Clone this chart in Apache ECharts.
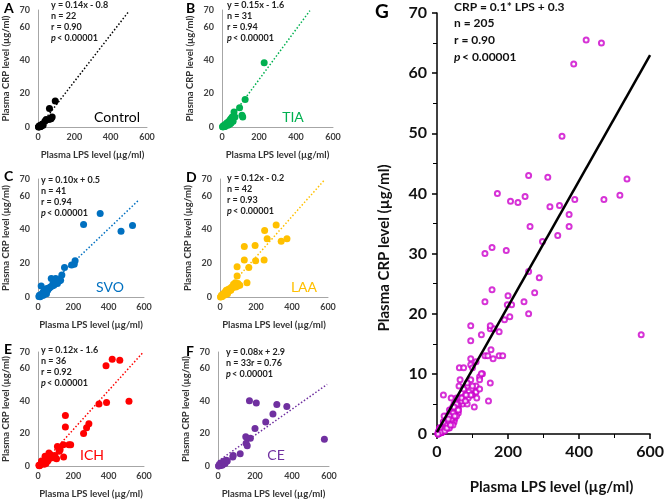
<!DOCTYPE html>
<html>
<head>
<meta charset="utf-8">
<script src="https://cdn.jsdelivr.net/npm/echarts@6/dist/echarts.min.js"></script>
<style>
  html, body { margin: 0; padding: 0; background: #fff; }
  #chart { width: 667px; height: 500px; }
</style>
</head>
<body>
<div id="chart"></div>
<script>
// LPS (x) vs CRP (y) per group
const controlPts = [[95,15.5],[63,11],[78,6],[72,5],[60,4.5],[45,4.5],[38,3.5],[25,1.8],[20,1.2],[15,1],
  [12,0.5],[10,0.2],[8,0.8],[6,0.3],[5,0.1],[18,0.6],[22,1.5],[14,0.3],[9,0.5],[4,0.2],[28,1],[3,0]];
const tiaPts = [[228,38.5],[125,16.5],[95,11.5],[108,7],[112,6],[65,9],[70,6],[55,6],[48,5],[42,4],
  [60,3.5],[50,2.5],[35,3],[30,2],[25,1.5],[20,1],[15,0.8],[10,0.5],[8,0.2],[5,0.1],[12,1],[18,0.5],
  [28,2.5],[38,1.5],[45,2],[22,2],[32,1],[14,0.3],[6,0.6],[3,0.2],[40,3]];
const svoPts = [[258,43],[352,49.5],[470,39],[535,42.4],[210,21.5],[205,19.5],[190,19],[150,17.5],[135,13],
  [128,10],[120,9.5],[100,11],[75,11],[95,9],[85,8],[18,6.5],[110,8],[90,7],[70,6],[60,5],[80,6.5],[55,4],
  [50,5],[45,3],[40,2.5],[35,2],[30,3],[25,1.5],[20,1],[15,0.8],[10,0.5],[8,1],[5,0.3],[12,0.2],[22,2],
  [28,1],[38,4],[65,5.5],[48,2],[32,1.2],[42,3.5]];
const laaPts = [[312,42.7],[248,39.5],[262,34.5],[340,33],[372,34.5],[135,30],[195,30.5],[135,22],[198,21.5],
  [245,22],[160,17.5],[95,18],[95,12.5],[150,8.5],[110,7],[98,6.5],[75,7.5],[85,8.5],[100,8],[65,6],[55,5],
  [45,4.5],[40,3],[35,4],[30,2.5],[25,2],[20,1.5],[15,1],[10,0.5],[5,0.2],[8,1],[12,0.3],[18,2],[22,1],
  [28,3],[50,3.5],[60,4],[70,5.5],[88,6],[42,2],[32,1.5],[3,0]];
const ichPts = [[420,65.5],[463,65],[385,61.5],[345,38],[388,39],[515,39.7],[155,31],[155,24],[288,26],
  [275,23.5],[258,20],[175,13],[185,13],[143,13],[110,12],[125,10],[145,5.5],[105,4.5],[85,5],[62,8],
  [70,6],[40,6],[48,4.5],[55,3],[30,2.5],[25,1.5],[35,1],[20,3],[15,1],[10,0.5],[8,0.2],[5,0.5],[45,1.5],
  [95,6.5],[120,9],[60,4]];
const cePts = [[170,40],[207,38.7],[318,37.8],[372,36.5],[297,32],[258,27],[200,23],[150,18],[175,17],
  [152,14],[158,12.5],[575,16.5],[120,7.5],[82,6.5],[80,5.5],[45,3.5],[40,2.5],[35,3],[30,2],[25,1.5],
  [20,1],[15,0.8],[10,0.5],[5,0.2],[8,1],[12,0.3],[18,2],[22,0.5],[28,1],[32,2.5],[38,1.5],[50,3],[3,0]];

// fitted lines, end points as drawn
const fitControl = [[6,0],[500,69.2]];
const fitTia = [[11,0],[475,69.6]];
const fitSvo = [[0,0.5],[570,57.5]];
const fitLaa = [[2,0],[580,69.4]];
const fitIch = [[13,0],[590,69.2]];
const fitCe = [[0,2.9],[590,50.1]];
const fitAll = [[0,0.3],[600,63]];

const eqTexts = [
  ["y = 0.14x - 0.8", "n = 22", "r = 0.90", "p"],
  ["y = 0.15x - 1.6", "n = 31", "r = 0.94", "p"],
  ["y = 0.10x + 0.5", "n = 41", "r = 0.94", "p"],
  ["y = 0.12x - 0.2", "n = 42", "r = 0.93", "p"],
  ["y = 0.12x - 1.6", "n = 36", "r = 0.92", "p"],
  ["y = 0.08x + 2.9", "n = 33r = 0.76", "p"]
];
const groupNames = ["Control", "TIA", "SVO", "LAA", "ICH", "CE"];
const panelLetters = ["A", "B", "C", "D", "E", "F"];
const groupColors = ["#000000", "#00b050", "#0070c0", "#ffc000", "#ff0000", "#7030a0"];

const FONT = 'Lato, "Open Sans", sans-serif';

const panels = [
  { pts: controlPts, fit: fitControl, grid: { left: 36, top: 10, width: 111, height: 117 },
    letter: [4, 8], eq: [51, 5], label: [117, 117] },
  { pts: tiaPts, fit: fitTia, grid: { left: 222, top: 10, width: 111, height: 117 },
    letter: [186, 8], eq: [227, 5], label: [293, 117] },
  { pts: svoPts, fit: fitSvo, grid: { left: 36, top: 179, width: 108, height: 118 },
    letter: [4, 176], eq: [41, 180], label: [110, 287] },
  { pts: laaPts, fit: fitLaa, grid: { left: 220, top: 179, width: 108, height: 118 },
    letter: [186, 177], eq: [227, 178], label: [304, 287] },
  { pts: ichPts, fit: fitIch, grid: { left: 35, top: 352, width: 109, height: 115 },
    letter: [4, 349], eq: [41, 350], label: [92, 455] },
  { pts: cePts, fit: fitCe, grid: { left: 218, top: 352, width: 111, height: 114 },
    letter: [186, 351], eq: [226, 352], label: [276, 455] }
];

const allPts = [].concat(controlPts, tiaPts, svoPts, laaPts, ichPts, cePts);

const grids = [], xAxes = [], yAxes = [], series = [], graphics = [];

panels.forEach((p, i) => {
  grids.push(p.grid);
  xAxes.push({
    type: "value", gridIndex: i, min: 0, max: 600, interval: 200,
    name: "Plasma LPS level (µg/ml)", nameLocation: "middle", nameGap: 23,
    nameTextStyle: { fontFamily: FONT, fontSize: 9.5, fontWeight: "bold", color: "#333" },
    axisLine: { lineStyle: { color: "#a6a6a6", width: 1 } },
    axisTick: { show: false },
    axisLabel: { fontFamily: FONT, fontSize: 9, fontWeight: "bold", color: "#404040", margin: 6 },
    splitLine: { show: false }
  });
  yAxes.push({
    type: "value", gridIndex: i, min: 0, max: 70, interval: 20,
    name: "Plasma CRP level (µg/ml)", nameLocation: "middle", nameGap: 27,
    nameTextStyle: { fontFamily: FONT, fontSize: 9.5, fontWeight: "bold", color: "#333" },
    axisLine: { show: true, lineStyle: { color: "#a6a6a6", width: 1 } },
    axisTick: { show: false },
    axisLabel: { fontFamily: FONT, fontSize: 9, fontWeight: "bold", color: "#404040", margin: 8 },
    splitLine: { show: false }
  });
  series.push({
    type: "line", xAxisIndex: i, yAxisIndex: i, data: p.fit, symbol: "none", z: 3,
    lineStyle: { color: groupColors[i], width: 1.5, type: [1.5, 2] }, silent: true
  });
  series.push({
    type: "scatter", xAxisIndex: i, yAxisIndex: i, data: p.pts, symbolSize: 7, z: 2,
    itemStyle: { color: groupColors[i], opacity: 1 }
  });

  graphics.push({ type: "text", left: p.letter[0], top: p.letter[1] - 7,
    style: { text: panelLetters[i], font: "bold 14px " + FONT, fill: "#000" } });
  eqTexts[i].forEach((t, k) => {
    const y = p.eq[1] + k * 11;
    if (t === "p") {
      graphics.push({ type: "text", x: p.eq[0], y: y,
        style: { text: "p", font: "italic bold 9px " + FONT, fill: "#222", textVerticalAlign: "middle" } });
      graphics.push({ type: "text", x: p.eq[0] + 6, y: y,
        style: { text: "< 0.00001", font: "bold 9px " + FONT, fill: "#222", textVerticalAlign: "middle" } });
    } else {
      graphics.push({ type: "text", x: p.eq[0], y: y,
        style: { text: t, font: "bold 9px " + FONT, fill: "#222", textVerticalAlign: "middle" } });
    }
  });
  graphics.push({ type: "text", x: p.label[0], y: p.label[1],
    style: { text: groupNames[i], font: "14px " + FONT, fill: groupColors[i],
      textAlign: "center", textVerticalAlign: "middle" } });
});

// big pooled panel G
const g = 6;
grids.push({ left: 437, top: 13, width: 215, height: 429 });
xAxes.push({
  type: "value", gridIndex: g, min: 0, max: 600, interval: 200,
  name: "Plasma LPS level (µg/ml)", nameLocation: "middle", nameGap: 46,
  nameTextStyle: { fontFamily: FONT, fontSize: 15, fontWeight: "bold", color: "#111", padding: [0, 0, 0, 16] },
  axisLine: { lineStyle: { color: "#000", width: 1.5 } },
  axisTick: { show: true, length: 5, lineStyle: { color: "#000", width: 1.5 } },
  minorTick: { show: true, splitNumber: 2, length: 4, lineStyle: { color: "#000", width: 1 } },
  axisLabel: { fontFamily: FONT, fontSize: 16, fontWeight: "bold", color: "#111", margin: 10 },
  splitLine: { show: false }
});
yAxes.push({
  type: "value", gridIndex: g, min: 0, max: 70, interval: 10,
  axisLine: { show: true, lineStyle: { color: "#000", width: 1.5 } },
  axisTick: { show: true, length: 5, lineStyle: { color: "#000", width: 1.5 } },
  minorTick: { show: true, splitNumber: 2, length: 4, lineStyle: { color: "#000", width: 1 } },
  axisLabel: { fontFamily: FONT, fontSize: 16, fontWeight: "bold", color: "#111", margin: 10 },
  splitLine: { show: false }
});
series.push({
  type: "scatter", xAxisIndex: g, yAxisIndex: g, data: allPts, symbol: "emptyCircle", symbolSize: 5, z: 2,
  itemStyle: { color: "#cc00cc", borderWidth: 1.8 }
});
series.push({
  type: "line", xAxisIndex: g, yAxisIndex: g, data: fitAll, symbol: "none", z: 3,
  lineStyle: { color: "#000", width: 2.5 }, silent: true
});

// y name of G sits lower than the grid centre in the original
graphics.push({ type: "text", x: 384, y: 248, rotation: Math.PI / 2,
  style: { text: "Plasma CRP level (µg/ml)", font: "bold 15px " + FONT, fill: "#111",
    textAlign: "center", textVerticalAlign: "middle" } });
graphics.push({ type: "text", left: 375, top: 2,
  style: { text: "G", font: "bold 19px " + FONT, fill: "#000" } });
["CRP = 0.1* LPS + 0.3", "n = 205", "r = 0.90"].forEach((t, k) => {
  graphics.push({ type: "text", x: 454, y: 7 + k * 16.5,
    style: { text: t, font: "bold 12px " + FONT, fill: "#111", textVerticalAlign: "middle" } });
});
graphics.push({ type: "text", x: 454, y: 57,
  style: { text: "p", font: "italic bold 12px " + FONT, fill: "#111", textVerticalAlign: "middle" } });
graphics.push({ type: "text", x: 462, y: 57,
  style: { text: "< 0.00001", font: "bold 12px " + FONT, fill: "#111", textVerticalAlign: "middle" } });

const chart = echarts.init(document.getElementById("chart"), null, { renderer: "canvas" });
chart.setOption({
  animation: false,
  backgroundColor: "#fff",
  grid: grids,
  xAxis: xAxes,
  yAxis: yAxes,
  series: series,
  graphic: graphics
});
</script>
</body>
</html>
